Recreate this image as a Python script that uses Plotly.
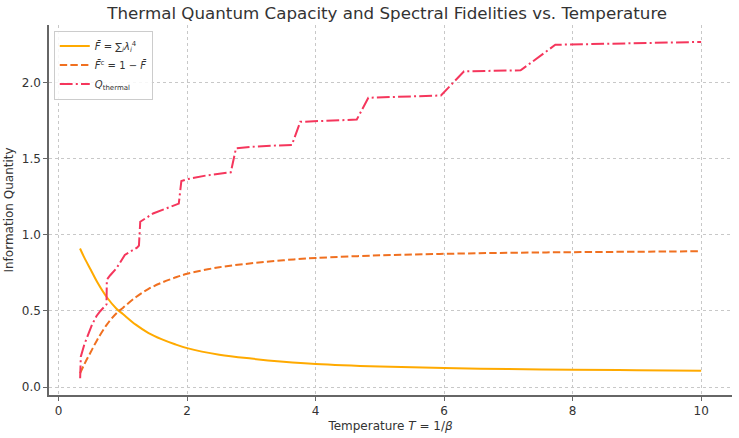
import plotly.graph_objects as go

# Fidelity curves
T_fid = [0.333, 0.40, 0.50, 0.60, 0.75, 0.90, 1.00, 1.20, 1.40, 1.60, 1.80, 2.00,
         2.50, 3.00, 3.50, 4.00, 5.00, 6.00, 7.00, 8.00, 9.00, 10.0]
F_bar = [0.91, 0.85, 0.77, 0.69, 0.59, 0.515, 0.48, 0.41, 0.355, 0.315, 0.283, 0.256,
         0.213, 0.187, 0.167, 0.152, 0.135, 0.125, 0.118, 0.114, 0.111, 0.108]
F_c = [0.09, 0.15, 0.23, 0.31, 0.41, 0.485, 0.52, 0.59, 0.645, 0.685, 0.717, 0.744,
       0.787, 0.813, 0.833, 0.848, 0.865, 0.875, 0.882, 0.886, 0.889, 0.892]

# Thermal quantum capacity
T_q = [0.335, 0.345, 0.40, 0.46, 0.52, 0.59, 0.65, 0.745, 0.75, 0.80, 0.90, 1.03,
       1.22, 1.25, 1.27, 1.47, 1.67, 1.87, 1.91, 2.00, 2.30, 2.68, 2.76, 3.00,
       3.30, 3.63, 3.76, 4.20, 4.64, 4.82, 5.40, 5.95, 6.31, 6.90, 7.19, 7.73,
       8.50, 9.30, 10.0]
Q_th = [0.058, 0.20, 0.28, 0.347, 0.41, 0.467, 0.50, 0.543, 0.705, 0.733, 0.78, 0.868,
        0.916, 0.93, 1.086, 1.14, 1.173, 1.205, 1.353, 1.365, 1.39, 1.411, 1.568, 1.578,
        1.585, 1.59, 1.742, 1.75, 1.757, 1.90, 1.908, 1.915, 2.074, 2.078, 2.08, 2.248,
        2.256, 2.262, 2.267]

fig = go.Figure()
fig.add_trace(go.Scatter(x=T_fid, y=F_bar, mode="lines", line=dict(color="#FFAA00", width=2),
                         line_shape="spline",
                         name="<i>F\u0304</i> = \u2211<sub><i>i</i></sub><i>\u03bb<sub>i</sub></i><sup>4</sup>"))
fig.add_trace(go.Scatter(x=T_fid, y=F_c, mode="lines",
                         line=dict(color="#F07020", width=2, dash="7.4px,3.2px"),
                         line_shape="spline",
                         name="<i>F\u0304</i><sup>c</sup> = 1 \u2212 <i>F\u0304</i>"))
fig.add_trace(go.Scatter(x=T_q, y=Q_th, mode="lines",
                         line=dict(color="#F5365C", width=2, dash="12.8px,3.2px,2px,3.2px"),
                         name="<i>Q</i><sub>thermal</sub>"))

axis_common = dict(
    showgrid=True, gridcolor="#c8c8c8", griddash="dot", gridwidth=1,
    showline=True, linecolor="#666666", linewidth=1.5, mirror=False,
    ticks="outside", ticklen=4, tickcolor="#666666", tickwidth=1,
    zeroline=False, tickfont=dict(size=12, color="#333333"),
)

fig.update_layout(
    width=739, height=438,
    margin=dict(l=46, r=7, t=25, b=40),
    paper_bgcolor="white", plot_bgcolor="white",
    font=dict(family="DejaVu Sans", color="#333333"),
    title=dict(text="Thermal Quantum Capacity and Spectral Fidelities vs. Temperature",
               x=0.524, xanchor="center", y=0.97, yanchor="middle",
               font=dict(size=16.7, color="#333333")),
    xaxis=dict(range=[-0.15, 10.48], dtick=2,
               title=dict(text="Temperature <i>T</i> = 1/<i>\u03b2</i>", font=dict(size=12), standoff=4),
               **axis_common),
    yaxis=dict(range=[-0.052, 2.378], dtick=0.5, tickformat=".1f",
               title=dict(text="Information Quantity", font=dict(size=12), standoff=6),
               **axis_common),
    legend=dict(x=0.007, y=0.985, xanchor="left", yanchor="top",
                bgcolor="rgba(255,255,255,0.85)", bordercolor="#cccccc", borderwidth=1,
                font=dict(size=10, color="#333333"), itemwidth=30, tracegroupgap=2),
    showlegend=True,
)

fig.write_html("out.html")
